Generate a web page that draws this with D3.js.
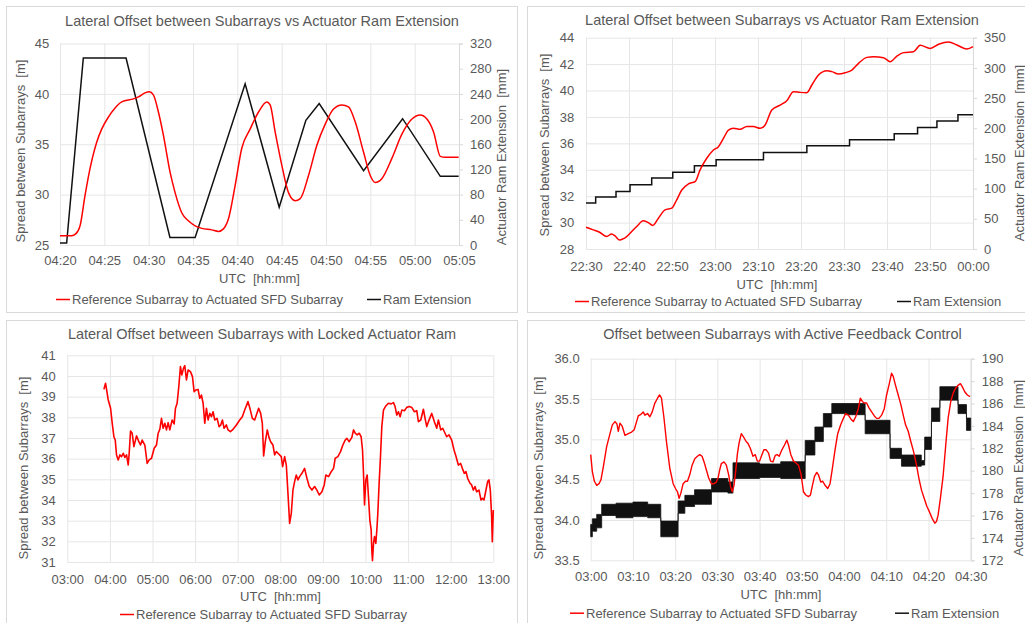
<!DOCTYPE html>
<html>
<head>
<meta charset="utf-8">
<script src="https://cdn.jsdelivr.net/npm/d3@7"></script>
<style>
  body { margin: 0; background: #fff; }
  svg { display: block; }
  svg text { font-family: "Liberation Sans", Arial, sans-serif; font-size: 13px; fill: #595959; }
  svg text.title { font-size: 14.5px; }
</style>
</head>
<body>
<svg width="1025" height="623"></svg>
<script>
// ---- panel 1: minutes after 04:20 ----
const p1RefT = [0, 1.32, 1.77, 2.26, 2.82, 3.39, 4.14, 4.70, 5.46, 6.21, 6.96, 8.28, 8.84, 9.59, 10.08, 10.53, 11.10, 11.66, 12.42, 12.98, 13.73, 14.48, 15.24, 15.99, 17.12, 17.87, 18.43, 19.0, 19.75, 20.5, 21.44, 22.39, 23.33, 23.7, 24.27, 25.02, 25.77, 26.52, 27.09, 28.03, 28.97, 29.91, 30.85, 31.79, 32.54, 33.3, 34.24, 34.99, 35.55, 36.31, 37.43, 38.56, 39.69, 40.63, 41.38, 42.14, 42.89, 43.45, 44.96]
const p1RefV = [25.93, 25.93, 26.1, 26.9, 29.9, 32.6, 35.2, 36.5, 37.7, 38.6, 39.2, 39.5, 39.7, 40.1, 40.2, 39.9, 38.2, 35.9, 32.2, 30.2, 28.2, 27.4, 26.9, 26.65, 26.5, 26.35, 26.6, 27.6, 30.9, 34.6, 36.5, 38.2, 39.2, 38.9, 36.2, 32.9, 30.2, 29.4, 29.6, 31.9, 34.9, 37.0, 38.5, 38.9, 38.7, 37.2, 34.2, 31.9, 31.2, 31.6, 33.6, 36.0, 37.5, 37.9, 37.5, 36.2, 33.8, 33.7, 33.7]
const p1RamT = [0, 0.75, 2.63, 7.45, 12.4, 15.24, 20.88, 24.72, 27.73, 29.23, 34.24, 38.64, 42.89, 44.96]
const p1RamV = [3, 3, 297, 297, 12, 12, 256, 60, 198, 224.5, 118, 200.6, 109, 109]
const p1LeftTicks = [25, 30, 35, 40, 45]
const p1RightTicks = [0, 40, 80, 120, 160, 200, 240, 280, 320]

// ---- panel 2: minutes after 22:30 ----
const p2RefT = [0, 1.71, 3.26, 4.81, 5.97, 6.75, 7.76, 9.46, 10.63, 11.79, 13.34, 14.5, 15.52, 16.84, 18.39, 19.94, 21.1, 22.27, 23.82, 25.37, 26.53, 28.08, 29.64, 30.8, 31.96, 33.13, 34.29, 35.84, 37.39, 38.94, 40.5, 41.66, 43.21, 45.15, 46.7, 48.25, 49.81, 51.36, 52.52, 54.07, 56.01, 57.18, 58.73, 60.28, 61.83, 63.38, 65.32, 66.87, 69.2, 70.75, 72.3, 73.86, 76.18, 77.73, 80.06, 82.0, 84.33, 86.27, 88.6, 90]
const p2RefV = [29.65, 29.45, 29.25, 28.94, 29.14, 28.99, 28.69, 28.94, 29.32, 29.7, 30.13, 30.0, 29.78, 30.33, 30.96, 31.09, 31.72, 32.47, 32.93, 33.1, 33.99, 34.87, 35.5, 35.75, 36.38, 37.01, 37.14, 37.06, 37.27, 37.27, 37.14, 37.39, 38.53, 38.9, 39.23, 39.91, 39.86, 39.84, 40.42, 41.17, 41.5, 41.43, 41.25, 41.35, 41.55, 42.06, 42.51, 42.56, 42.49, 42.18, 42.61, 42.87, 42.94, 43.42, 43.19, 43.5, 43.67, 43.45, 43.14, 43.32]
const p2RamT = [0, 2.25, 6.98, 10.24, 15.28, 20.17, 25.21, 30.26, 41.27, 51.36, 61.29, 71.68, 77.11, 81.61, 86.5, 90]
const p2RamV = [76, 86, 95.4, 106.4, 117.4, 127.3, 137.8, 147.7, 159.9, 170.9, 180.8, 190.7, 201.2, 212.2, 222.2, 222.2]
const p2LeftTicks = [28, 30, 32, 34, 36, 38, 40, 42, 44]
const p2RightTicks = [0, 50, 100, 150, 200, 250, 300, 350]

// ---- panel 3: hours after 03:00 ----
const p3RefT = [0.859, 0.898, 0.961, 1.016, 1.055, 1.094, 1.125, 1.156, 1.195, 1.234, 1.273, 1.313, 1.352, 1.391, 1.43, 1.453, 1.484, 1.523, 1.563, 1.625, 1.68, 1.719, 1.758, 1.82, 1.875, 1.922, 1.977, 2.039, 2.094, 2.133, 2.172, 2.211, 2.25, 2.289, 2.328, 2.367, 2.406, 2.461, 2.508, 2.539, 2.578, 2.617, 2.656, 2.688, 2.727, 2.758, 2.797, 2.836, 2.891, 2.938, 2.977, 3.016, 3.07, 3.109, 3.148, 3.188, 3.227, 3.266, 3.305, 3.344, 3.383, 3.422, 3.461, 3.516, 3.563, 3.602, 3.641, 3.68, 3.734, 3.773, 3.828, 3.891, 3.969, 4.047, 4.109, 4.164, 4.242, 4.297, 4.344, 4.398, 4.438, 4.492, 4.539, 4.578, 4.609, 4.648, 4.695, 4.734, 4.773, 4.828, 4.867, 4.906, 4.945, 5.023, 5.055, 5.102, 5.141, 5.18, 5.219, 5.258, 5.297, 5.336, 5.375, 5.414, 5.453, 5.508, 5.57, 5.625, 5.68, 5.742, 5.805, 5.859, 5.914, 5.977, 6.031, 6.07, 6.133, 6.195, 6.25, 6.289, 6.352, 6.414, 6.469, 6.523, 6.563, 6.617, 6.68, 6.719, 6.758, 6.805, 6.852, 6.898, 6.93, 6.953, 6.977, 7.008, 7.039, 7.07, 7.102, 7.133, 7.148, 7.164, 7.188, 7.211, 7.242, 7.266, 7.289, 7.32, 7.352, 7.383, 7.422, 7.477, 7.539, 7.602, 7.656, 7.695, 7.734, 7.773, 7.813, 7.852, 7.914, 7.969, 8.031, 8.086, 8.148, 8.203, 8.242, 8.297, 8.359, 8.398, 8.438, 8.477, 8.555, 8.617, 8.672, 8.711, 8.766, 8.813, 8.867, 8.906, 8.961, 9.023, 9.078, 9.125, 9.18, 9.234, 9.273, 9.32, 9.359, 9.398, 9.453, 9.492, 9.531, 9.57, 9.609, 9.664, 9.711, 9.742, 9.781, 9.82, 9.867, 9.898, 9.93, 9.961, 9.977, 10.0]
const p3RefV = [39.35, 39.65, 38.84, 38.44, 37.71, 37.06, 36.9, 36.18, 35.94, 36.18, 36.1, 36.26, 36.06, 36.18, 35.69, 36.26, 37.34, 37.23, 36.58, 37.1, 36.82, 36.66, 36.9, 36.66, 35.77, 35.94, 36.02, 36.5, 36.66, 37.23, 37.42, 37.95, 37.47, 37.71, 37.39, 37.74, 37.39, 37.87, 37.68, 38.44, 38.68, 39.48, 40.45, 40.05, 40.37, 40.5, 39.81, 40.29, 40.21, 39.97, 39.24, 39.32, 39.35, 38.92, 39.08, 38.68, 37.71, 38.44, 37.87, 38.19, 38.03, 38.27, 37.87, 37.95, 37.55, 37.63, 37.87, 37.47, 37.63, 37.39, 37.31, 37.42, 37.63, 37.87, 38.03, 38.35, 38.76, 38.35, 37.95, 37.87, 38.11, 38.44, 38.19, 37.71, 36.13, 36.82, 37.39, 37.03, 36.82, 36.66, 36.18, 36.34, 36.26, 36.1, 35.61, 36.1, 35.69, 34.32, 32.87, 33.35, 34.48, 34.89, 35.21, 34.97, 35.13, 35.29, 35.53, 35.05, 34.65, 34.48, 34.65, 34.48, 34.24, 34.4, 34.73, 35.21, 35.13, 35.37, 35.53, 36.02, 36.1, 36.34, 36.66, 36.9, 36.98, 36.82, 37.03, 37.39, 37.23, 37.15, 37.23, 37.06, 36.42, 35.29, 33.76, 34.97, 35.21, 34.16, 33.03, 32.55, 31.58, 31.06, 31.9, 32.23, 31.9, 32.55, 33.35, 34.81, 36.1, 37.55, 38.35, 38.55, 38.68, 38.65, 38.71, 38.52, 38.11, 38.27, 38.03, 38.35, 38.32, 38.48, 38.52, 38.48, 38.27, 38.32, 37.79, 37.87, 38.39, 37.95, 37.55, 37.79, 38.19, 37.79, 37.47, 37.87, 37.39, 37.47, 37.23, 37.06, 37.15, 36.9, 36.42, 36.1, 35.69, 35.77, 35.53, 35.29, 35.37, 35.05, 34.81, 34.73, 34.48, 34.65, 34.4, 34.48, 34.0, 34.08, 34.0, 34.4, 34.89, 34.97, 34.48, 33.19, 31.98, 33.52]
const p3LeftTicks = [31, 32, 33, 34, 35, 36, 37, 38, 39, 40, 41]

// ---- panel 4: minutes after 03:00 ----
const p4RefT = [0, 0.39, 0.87, 1.42, 1.97, 2.44, 2.99, 3.78, 4.57, 5.12, 5.75, 6.22, 6.54, 6.93, 7.48, 8.11, 8.9, 9.69, 10.31, 10.87, 11.26, 11.89, 12.44, 12.83, 13.46, 14.02, 14.57, 15.2, 15.83, 16.3, 16.77, 17.32, 17.95, 18.74, 19.53, 20.08, 20.55, 20.94, 21.34, 21.89, 22.44, 22.91, 23.46, 24.02, 24.65, 25.28, 25.83, 26.38, 26.85, 27.4, 27.95, 28.58, 29.21, 29.76, 30.16, 30.55, 30.94, 31.57, 32.13, 32.68, 33.15, 33.54, 33.94, 34.33, 34.72, 35.12, 35.67, 36.3, 36.85, 37.24, 37.8, 38.43, 38.98, 39.45, 40.0, 40.55, 41.02, 41.57, 42.13, 42.6, 43.15, 43.7, 44.17, 44.65, 45.28, 45.91, 46.46, 46.85, 47.4, 48.03, 48.58, 49.21, 49.84, 50.39, 50.94, 51.57, 52.05, 52.52, 53.0, 53.54, 53.94, 54.49, 54.96, 55.51, 56.14, 56.69, 57.24, 57.87, 58.5, 59.21, 59.84, 60.39, 61.02, 61.65, 62.2, 62.76, 63.39, 63.86, 64.33, 64.8, 65.35, 65.91, 66.54, 67.17, 67.72, 68.27, 68.9, 69.53, 70.08, 70.63, 71.26, 71.65, 72.2, 72.83, 73.46, 74.02, 74.57, 75.2, 75.83, 76.46, 77.17, 77.72, 78.35, 78.98, 79.61, 80.24, 80.87, 81.5, 81.89, 82.28, 82.83, 83.46, 84.09, 84.65, 85.28, 85.83, 86.38, 87.01, 87.56, 88.03, 88.58, 89.21, 89.84]
const p4RefV = [34.81, 34.6, 34.48, 34.43, 34.45, 34.5, 34.66, 34.91, 35.07, 35.18, 35.22, 35.19, 35.1, 35.2, 35.16, 35.05, 35.07, 35.09, 35.12, 35.22, 35.29, 35.31, 35.34, 35.3, 35.32, 35.28, 35.34, 35.45, 35.51, 35.55, 35.51, 35.28, 34.97, 34.64, 34.45, 34.39, 34.35, 34.27, 34.33, 34.45, 34.48, 34.48, 34.56, 34.68, 34.76, 34.79, 34.81, 34.79, 34.72, 34.62, 34.52, 34.45, 34.45, 34.47, 34.52, 34.62, 34.7, 34.72, 34.68, 34.56, 34.41, 34.35, 34.43, 34.6, 34.81, 34.95, 35.07, 35.02, 34.97, 34.95, 34.89, 34.79, 34.81, 34.73, 34.73, 34.81, 34.87, 34.87, 34.83, 34.73, 34.72, 34.8, 34.81, 34.79, 34.87, 34.93, 34.99, 34.93, 34.81, 34.73, 34.71, 34.68, 34.56, 34.35, 34.31, 34.29, 34.31, 34.43, 34.54, 34.59, 34.56, 34.47, 34.48, 34.43, 34.39, 34.45, 34.64, 34.87, 35.07, 35.18, 35.26, 35.32, 35.3, 35.25, 35.22, 35.28, 35.38, 35.51, 35.47, 35.45, 35.45, 35.39, 35.34, 35.29, 35.26, 35.26, 35.3, 35.38, 35.55, 35.67, 35.82, 35.78, 35.67, 35.55, 35.43, 35.3, 35.18, 35.1, 34.97, 34.85, 34.68, 34.52, 34.37, 34.27, 34.17, 34.1, 34.02, 33.96, 33.98, 34.06, 34.27, 34.54, 34.93, 35.26, 35.47, 35.57, 35.63, 35.67, 35.69, 35.65, 35.59, 35.55, 35.53]
// ram extension jitters fast between a low and a high value: keep both
const p4RamT = [0, 0.39, 1.42, 2.6, 6.0, 10.0, 13.5, 16.6, 20.7, 22.3, 24.6, 28.6, 32.5, 33.7, 40.0, 45.0, 50.8, 53.1, 55.1, 57.1, 60.2, 65.0, 70.9, 73.6, 78.3, 79.1, 80.7, 82.7, 87.0, 89.0, 90]
const p4RamLo = [174.1, 174.6, 174.9, 176.0, 175.8, 175.9, 175.8, 174.1, 176.2, 176.8, 177.0, 178.1, 178.0, 179.3, 179.4, 179.3, 181.4, 182.6, 183.9, 185.1, 185.0, 183.3, 181.1, 180.4, 180.5, 181.9, 184.4, 186.3, 185.1, 183.6, 183.6]
const p4RamHi = [175.2, 175.7, 176.1, 177.0, 177.1, 177.2, 177.0, 175.5, 177.3, 177.8, 178.3, 179.3, 179.0, 180.7, 180.6, 180.8, 182.7, 183.9, 185.1, 186.0, 186.0, 184.5, 182.0, 181.4, 180.9, 183.0, 185.6, 187.5, 185.9, 184.7, 184.7]
const p4LeftTicks = [33.5, 34.0, 34.5, 35.0, 35.5, 36.0]
const p4RightTicks = [172, 174, 176, 178, 180, 182, 184, 186, 188, 190]

const refLabel = 'Reference Subarray to Actuated SFD Subarray'
const ramLabel = 'Ram Extension'
const leftTitle = 'Spread between Subarrays  [m]'
const rightTitle = 'Actuator Ram Extension  [mm]'
const xTitle = 'UTC  [hh:mm]'

const svg = d3.select('svg')
const gridColor = '#e6e6e6'
const day = (h, m, d = 1) => new Date(2000, 0, d, h, m)
const MIN = 60000
const HOUR = 3600000

const drawPanel = p => {
  const toDate = t => new Date(+p.start + t * p.unit)
  const xScale = d3.scaleTime().domain([p.start, p.end]).range([p.left, p.right])
  const yScale = d3.scaleLinear().domain(p.yDomain).range([p.bottom, p.top])
  const plotW = p.right - p.left
  const plotH = p.bottom - p.top

  svg.append('rect')
    .attr('x', p.box[0] + 0.5).attr('y', p.box[1] + 0.5)
    .attr('width', p.box[2]).attr('height', p.box[3])
    .attr('fill', '#fff').attr('stroke', '#d9d9d9')

  const xAxisG = svg.append('g')
    .attr('transform', `translate(0, ${p.bottom})`)
    .call(d3.axisBottom(xScale).ticks(p.xInterval).tickSize(-plotH)
      .tickPadding(p.xPad).tickFormat(d3.timeFormat('%H:%M')))
  xAxisG.select('.domain').remove()

  const yAxisG = svg.append('g')
    .attr('transform', `translate(${p.left}, 0)`)
    .call(d3.axisLeft(yScale).tickValues(p.yTicks).tickSize(-plotW)
      .tickPadding(p.yPad).tickFormat(d3.format(p.yFmt)))
  yAxisG.select('.domain').remove()

  ;[xAxisG, yAxisG].forEach(a => a.selectAll('.tick line').attr('stroke', gridColor))

  let y2Scale = null
  if (p.y2Domain) {
    y2Scale = d3.scaleLinear().domain(p.y2Domain).range([p.bottom, p.top])
    const y2G = svg.append('g')
      .attr('transform', `translate(${p.right}, 0)`)
      .call(d3.axisRight(y2Scale).tickValues(p.y2Ticks).tickSize(4).tickPadding(7))
    y2G.select('.domain').attr('stroke', '#d9d9d9')
    y2G.selectAll('.tick line').attr('stroke', '#d9d9d9')
  }

  // titles
  svg.append('text').attr('class', 'title')
    .attr('x', p.titleX).attr('y', p.titleY)
    .attr('text-anchor', 'middle').text(p.title)
  svg.append('text')
    .attr('x', p.xTitleX).attr('y', p.xTitleY)
    .attr('text-anchor', 'middle').style('white-space', 'pre').text(xTitle)
  svg.append('text')
    .attr('transform', `translate(${p.yTitleX}, ${p.yTitleY}) rotate(-90)`)
    .attr('text-anchor', 'middle').style('white-space', 'pre').text(leftTitle)
  if (p.y2Domain) {
    svg.append('text')
      .attr('transform', `translate(${p.y2TitleX}, ${p.y2TitleY}) rotate(-90)`)
      .attr('text-anchor', 'middle').style('white-space', 'pre').text(rightTitle)
  }

  const plot = svg.append('g')

  if (p.ramBand) {
    const band = d3.zip(p.ramBand[0], p.ramBand[1], p.ramBand[2])
    const area = d3.area()
      .x(d => xScale(toDate(d[0])))
      .y0(d => y2Scale(d[1]))
      .y1(d => y2Scale(d[2]))
      .curve(d3.curveStepAfter)
    plot.append('path').attr('d', area(band))
      .attr('fill', '#111').attr('stroke', '#111').attr('stroke-width', 0.8)
  }
  if (p.ram) {
    const line = d3.line()
      .x(d => xScale(toDate(d[0])))
      .y(d => y2Scale(d[1]))
      .curve(p.ramCurve)
    plot.append('path').attr('d', line(d3.zip(p.ram[0], p.ram[1])))
      .attr('fill', 'none').attr('stroke', '#111').attr('stroke-width', 1.5)
  }

  const refLine = d3.line()
    .x(d => xScale(toDate(d[0])))
    .y(d => yScale(d[1]))
    .curve(p.refCurve)
  plot.append('path').attr('d', refLine(d3.zip(p.ref[0], p.ref[1])))
    .attr('fill', 'none').attr('stroke', '#ff0000')
    .attr('stroke-width', p.refWidth).attr('stroke-linejoin', 'round')

  // legend
  p.legend.forEach(item => {
    svg.append('line')
      .attr('x1', item.x).attr('x2', item.x + 14)
      .attr('y1', p.legendY - 4.5).attr('y2', p.legendY - 4.5)
      .attr('stroke', item.color).attr('stroke-width', 1.5)
    svg.append('text')
      .attr('x', item.x + 16).attr('y', p.legendY)
      .text(item.label)
  })
}

const panels = [
  {
    box: [6, 6, 511, 306],
    left: 60, right: 459, top: 43.5, bottom: 245,
    start: day(4, 20), end: day(5, 5), unit: MIN, xInterval: d3.timeMinute.every(5), xPad: 11,
    yDomain: [25, 45], yTicks: p1LeftTicks, yFmt: 'd', yPad: 10.7,
    y2Domain: [0, 320], y2Ticks: p1RightTicks,
    title: 'Lateral Offset between Subarrays vs Actuator Ram Extension', titleX: 262, titleY: 25.5,
    xTitleX: 259.5, xTitleY: 282.7, yTitleX: 25, yTitleY: 151, y2TitleX: 506, y2TitleY: 157,
    ref: [p1RefT, p1RefV], refCurve: d3.curveMonotoneX, refWidth: 1.5,
    ram: [p1RamT, p1RamV], ramCurve: d3.curveLinear,
    legendY: 304,
    legend: [{ x: 56, color: '#ff0000', label: refLabel }, { x: 367, color: '#111', label: ramLabel }]
  },
  {
    box: [527, 6, 510, 306],
    left: 586, right: 973, top: 37.7, bottom: 249,
    start: day(22, 30), end: day(0, 0, 2), unit: MIN, xInterval: d3.timeMinute.every(10), xPad: 12.8,
    yDomain: [28, 44], yTicks: p2LeftTicks, yFmt: 'd', yPad: 11.7,
    y2Domain: [0, 350], y2Ticks: p2RightTicks,
    title: 'Lateral Offset between Subarrays vs Actuator Ram Extension', titleX: 782, titleY: 25,
    xTitleX: 777, xTitleY: 289, yTitleX: 549, yTitleY: 145, y2TitleX: 1023.5, y2TitleY: 153,
    ref: [p2RefT, p2RefV], refCurve: d3.curveMonotoneX, refWidth: 1.5,
    ram: [p2RamT, p2RamV], ramCurve: d3.curveStepAfter,
    legendY: 306,
    legend: [{ x: 575, color: '#ff0000', label: refLabel }, { x: 897, color: '#111', label: ramLabel }]
  },
  {
    box: [6, 320, 511, 310],
    left: 67.3, right: 493.3, top: 355.3, bottom: 562,
    start: day(3, 0), end: day(13, 0), unit: HOUR, xInterval: d3.timeHour.every(1), xPad: 12.5,
    yDomain: [31, 41], yTicks: p3LeftTicks, yFmt: 'd', yPad: 11.6,
    title: 'Lateral Offset between Subarrays with Locked Actuator Ram', titleX: 262, titleY: 339.3,
    xTitleX: 280.5, xTitleY: 600.7, yTitleX: 28.3, yTitleY: 468,
    ref: [p3RefT, p3RefV], refCurve: d3.curveLinear, refWidth: 1.6,
    legendY: 619,
    legend: [{ x: 120, color: '#ff0000', label: refLabel }]
  },
  {
    box: [527, 320, 510, 310],
    left: 590.7, right: 970.7, top: 358.7, bottom: 560.3,
    start: day(3, 0), end: day(4, 30), unit: MIN, xInterval: d3.timeMinute.every(10), xPad: 11.2,
    yDomain: [33.5, 36], yTicks: p4LeftTicks, yFmt: '.1f', yPad: 11,
    y2Domain: [172, 190], y2Ticks: p4RightTicks,
    title: 'Offset between Subarrays with Active Feedback Control', titleX: 782.5, titleY: 339.3,
    xTitleX: 781, xTitleY: 598.7, yTitleX: 543, yTitleY: 468, y2TitleX: 1023, y2TitleY: 468,
    ref: [p4RefT, p4RefV], refCurve: d3.curveLinear, refWidth: 1.4,
    ramBand: [p4RamT, p4RamLo, p4RamHi],
    legendY: 617.7,
    legend: [{ x: 570, color: '#ff0000', label: refLabel }, { x: 895, color: '#111', label: ramLabel }]
  }
]

panels.forEach(drawPanel)
</script>
</body>
</html>
